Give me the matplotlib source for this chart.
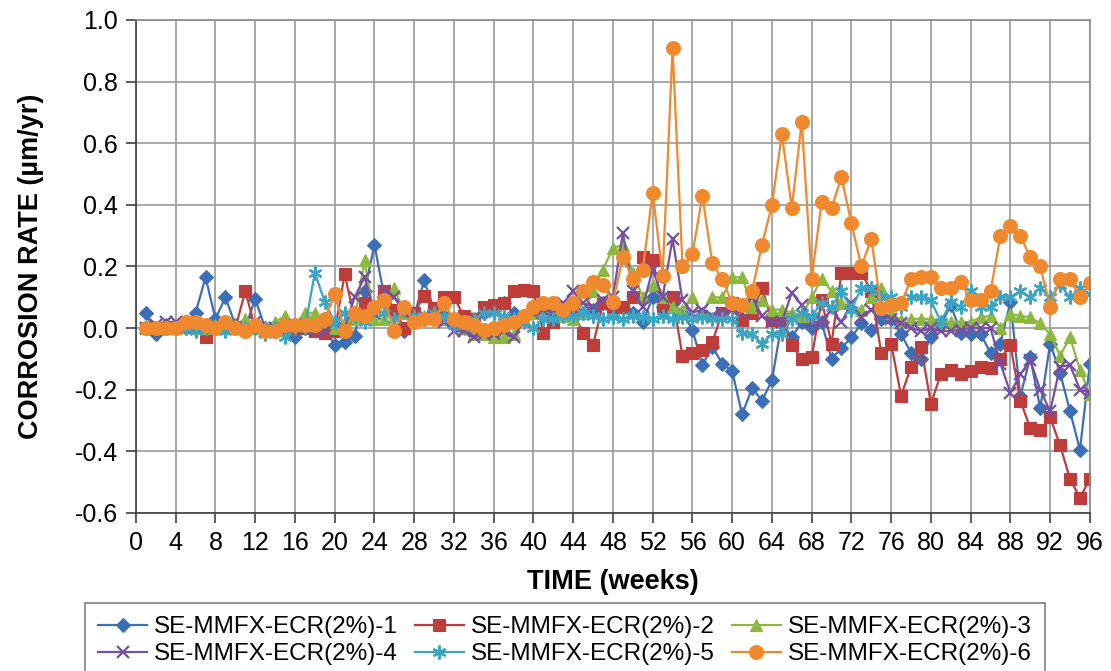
import matplotlib
matplotlib.use("Agg")
import matplotlib.pyplot as plt
import numpy as np

plt.rcParams['font.family'] = ['Liberation Sans', 'DejaVu Sans']
plt.rcParams['axes.unicode_minus'] = False

weeks = list(range(1, 97))

s1 = [0.05, -0.02, 0.01, 0.0, 0.0, 0.05, 0.165, 0.03, 0.10, 0.01,
      0.0, 0.095, 0.0, 0.0, 0.01, -0.03, 0.0, 0.02, 0.0, -0.055,
      -0.045, -0.025, 0.12, 0.27, 0.1, 0.05, -0.01, 0.04, 0.155, 0.06,
      0.04, 0.02, 0.0, 0.01, 0.05, 0.06, 0.08, 0.05, 0.04, 0.06,
      0.06, 0.05, 0.04, 0.04, 0.05, 0.06, 0.08, 0.07, 0.065, 0.05,
      0.02, 0.1, 0.07, 0.08, 0.05, -0.005, -0.12, -0.06, -0.115, -0.14,
      -0.28, -0.195, -0.235, -0.17, 0.02, -0.03, 0.02, 0.0, 0.02, -0.1,
      -0.065, -0.03, 0.015, -0.005, 0.03, 0.03, -0.02, -0.08, -0.1, -0.03,
      0.01, 0.075, -0.015, -0.02, -0.02, -0.08, -0.05, 0.085, -0.22, -0.095,
      -0.26, -0.05, -0.145, -0.27, -0.395, -0.115]

s2 = [0.0, 0.0, 0.0, 0.0, 0.01, 0.0, -0.03, 0.0, 0.01, 0.0,
      0.12, 0.0, -0.01, 0.0, 0.0, 0.0, 0.0, -0.01, -0.015, -0.01,
      0.175, 0.03, 0.08, 0.07, 0.12, 0.06, 0.0, 0.05, 0.105, 0.065,
      0.1, 0.1, 0.04, 0.03, 0.07, 0.075, 0.08, 0.12, 0.125, 0.12,
      -0.015, 0.02, 0.06, 0.05, -0.015, -0.055, 0.08, 0.07, 0.07, 0.1,
      0.23, 0.22, 0.07, 0.1, -0.09, -0.08, -0.07, -0.045, 0.05, 0.08,
      0.025, 0.05, 0.13, 0.025, 0.03, -0.055, -0.1, -0.095, 0.09, -0.05,
      0.18, 0.18, 0.18, 0.12, -0.08, -0.05, -0.22, -0.125, -0.06, -0.245,
      -0.15, -0.135, -0.15, -0.14, -0.125, -0.13, -0.1, -0.055, -0.235, -0.325,
      -0.33, -0.29, -0.38, -0.49, -0.55, -0.49]

s3 = [0.0, 0.0, 0.0, 0.0, 0.01, 0.0, 0.0, 0.01, 0.0, 0.01,
      0.03, 0.0, 0.0, 0.02, 0.04, 0.01, 0.05, 0.05, 0.02, 0.0,
      0.02, 0.03, 0.22, 0.03, 0.03, 0.13, 0.05, 0.03, 0.04, 0.05,
      0.03, 0.02, 0.0, -0.02, -0.02, -0.03, -0.03, -0.02, 0.03, 0.05,
      0.06, 0.05, 0.04, 0.03, 0.05, 0.12, 0.19, 0.26, 0.27, 0.18,
      0.1, 0.14, 0.1, 0.07, 0.06, 0.1, 0.05, 0.1, 0.1, 0.165,
      0.165, 0.07, 0.09, 0.06, 0.06, 0.05, 0.04, 0.1, 0.16, 0.12,
      0.08, 0.07, 0.06, 0.1, 0.13, 0.05, 0.025, 0.03, 0.03, 0.03,
      0.02, 0.02, 0.02, 0.02, 0.035, 0.04, 0.0, 0.045, 0.04, 0.035,
      0.015, -0.02, -0.09, -0.03, -0.135, -0.215]

s4 = [0.0, 0.01, 0.02, 0.02, 0.0, 0.0, 0.0, 0.01, 0.0, 0.0,
      0.0, 0.02, -0.01, 0.0, 0.0, 0.01, 0.0, -0.01, -0.01, 0.02,
      0.0, 0.1, 0.165, 0.05, 0.12, 0.1, 0.05, 0.03, 0.04, 0.04,
      0.02, -0.01, -0.01, -0.03, -0.02, -0.02, -0.01, -0.03, 0.02, 0.05,
      0.06, 0.05, 0.08, 0.12, 0.08, 0.07, 0.09, 0.1, 0.31, 0.12,
      0.07, 0.19, 0.1, 0.29, 0.09, 0.05, 0.06, 0.04, 0.05, 0.06,
      0.05, 0.1, 0.04, 0.02, 0.02, 0.115, 0.075, 0.02, 0.02, 0.06,
      0.02, 0.08, 0.035, 0.06, 0.05, 0.03, 0.015, 0.0, -0.01, 0.0,
      -0.01, -0.01, -0.005, 0.0, 0.0, 0.0, -0.115, -0.21, -0.15, -0.105,
      -0.2, -0.27, -0.125, -0.12, -0.2, -0.21]

s5 = [0.0, 0.0, 0.0, 0.0, 0.0, -0.01, 0.0, 0.0, -0.01, 0.0,
      0.0, 0.0, -0.02, 0.0, -0.03, 0.0, 0.0, 0.18, 0.085, 0.02,
      0.05, 0.04, 0.02, 0.06, 0.05, 0.03, 0.06, 0.04, 0.03, 0.05,
      0.04, 0.01, 0.02, 0.03, 0.05, 0.05, 0.04, 0.03, 0.02, 0.0,
      0.03, 0.03, 0.04, 0.04, 0.05, 0.04, 0.03, 0.035, 0.03, 0.04,
      0.035, 0.03, 0.04, 0.03, 0.035, 0.03, 0.035, 0.03, 0.03, 0.03,
      -0.015, -0.02, -0.05, -0.02, -0.02, 0.03, 0.05, 0.04, 0.08, 0.07,
      0.12, 0.06, 0.13, 0.13, 0.1, 0.1, 0.07, 0.1, 0.1, 0.09,
      0.02, 0.085, 0.07, 0.12, 0.07, 0.07, 0.1, 0.1, 0.12, 0.1,
      0.13, 0.1, 0.14, 0.1, 0.13, 0.11]

s6 = [0.0, 0.0, 0.0, 0.0, 0.02, 0.02, 0.01, 0.0, 0.02, 0.0,
      -0.01, 0.01, -0.01, -0.01, 0.01, 0.01, 0.01, 0.01, 0.03, 0.11,
      -0.01, 0.05, 0.04, 0.07, 0.09, -0.01, 0.07, 0.02, 0.03, 0.03,
      0.08, 0.03, 0.02, 0.01, -0.005, 0.0, 0.01, 0.02, 0.04, 0.07,
      0.08, 0.08, 0.06, 0.08, 0.12, 0.15, 0.14, 0.085, 0.23, 0.16,
      0.19, 0.44, 0.17, 0.91, 0.2, 0.24, 0.43, 0.21, 0.16, 0.08,
      0.075, 0.12, 0.27, 0.4, 0.63, 0.39, 0.67, 0.16, 0.41, 0.39,
      0.49, 0.34, 0.2, 0.29, 0.065, 0.075, 0.08, 0.16, 0.165, 0.165,
      0.13, 0.13, 0.15, 0.09, 0.09, 0.12, 0.3, 0.33, 0.3, 0.23,
      0.2, 0.07, 0.16, 0.16, 0.1, 0.145]

labels = ['SE-MMFX-ECR(2%)-1', 'SE-MMFX-ECR(2%)-2', 'SE-MMFX-ECR(2%)-3',
          'SE-MMFX-ECR(2%)-4', 'SE-MMFX-ECR(2%)-5', 'SE-MMFX-ECR(2%)-6']
colors = ['#3D6FB6', '#BE3D3A', '#8DB83F', '#7550A0', '#3AA5C4', '#F0892E']
markers = ['D', 's', '^', 'x', (6, 2, 0), 'o']
msizes = [7, 8, 8, 9, 10, 10]

fig = plt.figure(figsize=(11.11, 6.71), dpi=100)
ax = fig.add_axes([0.1224, 0.2355, 0.8586, 0.7347])

lines = []
for s, lab, c, m, ms in zip([s1, s2, s3, s4, s5, s6], labels, colors, markers, msizes):
    ln, = ax.plot(weeks, s, color=c, marker=m, markersize=ms, linewidth=1.6,
                  markeredgewidth=1.6 if m in ('x', (6, 2, 0)) else 0.8,
                  markeredgecolor=c, label=lab)
    lines.append(ln)

ax.set_xlim(0, 96)
ax.set_ylim(-0.6, 1.0)
ax.set_xticks(range(0, 97, 4))
ax.set_yticks(np.arange(-0.6, 1.01, 0.2))
ax.yaxis.set_major_formatter(matplotlib.ticker.FormatStrFormatter('%.1f'))
ax.grid(True, color='#9A9A9A', linewidth=1.2)
ax.set_axisbelow(True)
for sp in ax.spines.values():
    sp.set_color('#8A8A8A')
    sp.set_linewidth(1.2)
ax.spines['left'].set_color('#404040')
ax.spines['bottom'].set_color('#404040')
ax.tick_params(axis='both', labelsize=18, direction='out', length=7,
               width=1.2, color='#404040', pad=6)

ax.set_xlabel('TIME (weeks)', fontsize=19.5, fontweight='bold', labelpad=10)
ax.set_ylabel('CORROSION RATE (µm/yr)', fontsize=19.5, fontweight='bold', labelpad=22)

# row-major order like the original legend
order = [0, 3, 1, 4, 2, 5]
leg = fig.legend([lines[i] for i in order], [labels[i] for i in order],
                 loc='upper center', bbox_to_anchor=(0.5086, 0.1013), ncol=3,
                 fontsize=17.5, frameon=True, fancybox=False, edgecolor='#606060',
                 handlelength=2.0, columnspacing=0.7, handletextpad=0.3,
                 borderpad=0.55, labelspacing=0.2, borderaxespad=0)
leg.get_frame().set_linewidth(1.2)

fig.savefig('out.png', dpi=100)
